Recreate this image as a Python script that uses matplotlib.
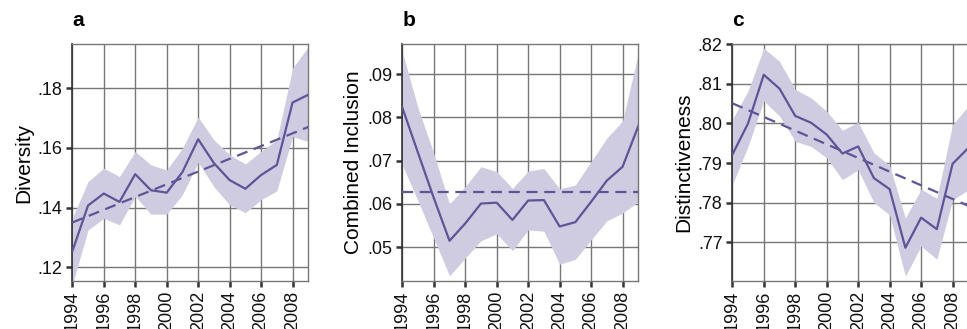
import matplotlib
matplotlib.use("Agg")
import matplotlib.pyplot as plt
from matplotlib.ticker import FuncFormatter

plt.rcParams['font.family'] = ['Liberation Sans', 'DejaVu Sans']

years = list(range(1994, 2010))

div_mean = [.1253, .1407, .1447, .1419, .1512, .1458, .1450, .1519, .1629, .1549,
            .1492, .1463, .1509, .1543, .1752, .1778]
div_upper = [.1365, .1487, .1532, .1504, .1588, .1543, .1526, .1599, .1703, .1627,
             .1577, .1546, .1588, .1627, .1867, .1939]
div_lower = [.1140, .1325, .1364, .1342, .1437, .1378, .1378, .1443, .1552, .1470,
             .1409, .1383, .1426, .1456, .1638, .1621]
div_trend = [.1350, .1670]

inc_mean = [.0823, .0718, .0614, .0515, .0555, .0601, .0603, .0563, .0608, .0609,
            .0548, .0558, .0605, .0654, .0686, .0780]
inc_upper = [.0952, .0822, .0717, .0600, .0640, .0686, .0675, .0636, .0676, .0682,
             .0635, .0644, .0698, .0752, .0792, .0948]
inc_lower = [.0690, .0607, .0521, .0434, .0475, .0515, .0531, .0492, .0540, .0537,
             .0461, .0472, .0517, .0561, .0579, .0605]
inc_trend = [.0627, .0627]

dis_mean = [.7921, .8000, .8123, .8088, .8019, .8002, .7972, .7924, .7942, .7862,
            .7834, .7686, .7762, .7733, .7898, .7938]
dis_upper = [.8010, .8082, .8190, .8157, .8086, .8065, .8031, .7983, .8003, .7926,
             .7894, .7761, .7834, .7811, .7997, .8044]
dis_lower = [.7845, .7942, .8057, .8019, .7955, .7942, .7913, .7858, .7883, .7800,
             .7769, .7614, .7690, .7657, .7807, .7832]
dis_trend = [.8051, .7792]

panels = [
    dict(letter='a', label='Diversity', mean=div_mean, upper=div_upper, lower=div_lower,
         trend=div_trend, ylim=(.1154, .1947), yticks=[.12, .14, .16, .18], left=72.3),
    dict(letter='b', label='Combined Inclusion', mean=inc_mean, upper=inc_upper, lower=inc_lower,
         trend=inc_trend, ylim=(.0422, .0969), yticks=[.05, .06, .07, .08, .09], left=402.3),
    dict(letter='c', label='Distinctiveness', mean=dis_mean, upper=dis_upper, lower=dis_lower,
         trend=dis_trend, ylim=(.7602, .8200), yticks=[.77, .78, .79, .80, .81, .82], left=732.3),
]

W, H = 967, 329
fig = plt.figure(figsize=(W / 100, H / 100), dpi=100)

line_c = '#5d5595'
fill_c = '#cfcce2'
grid_c = '#777777'
dark_c = '#333333'

def fmt(v, pos):
    s = '%.2f' % v
    return s[1:] if s.startswith('0') else s

for p in panels:
    ax = fig.add_axes([p['left'] / W, 1 - 281 / H, 236 / W, (281 - 44.3) / H])
    ax.fill_between(years, p['lower'], p['upper'], color=fill_c, lw=0, zorder=1)
    ax.plot(years, p['mean'], color=line_c, lw=1.6, zorder=3)
    ax.plot([years[0], years[-1]], p['trend'], color=line_c, lw=1.6, ls=(0, (5, 3)), zorder=3)
    ax.set_xlim(1994, 2009)
    ax.set_ylim(*p['ylim'])
    ax.set_xticks(list(range(1994, 2009, 2)))
    ax.set_xticklabels([str(y) for y in range(1994, 2009, 2)], rotation=90)
    ax.set_yticks(p['yticks'])
    ax.yaxis.set_major_formatter(FuncFormatter(fmt))
    ax.grid(True, color=grid_c, lw=1.0, zorder=0)
    ax.set_axisbelow(True)
    for s in ['top', 'right', 'bottom']:
        ax.spines[s].set_color(grid_c)
        ax.spines[s].set_linewidth(1.0)
    ax.spines['left'].set_color(dark_c)
    ax.spines['left'].set_linewidth(1.2)
    ax.tick_params(axis='both', length=4, width=1.8, color=dark_c, labelsize=13,
                   labelcolor='#111111', pad=3)
    ax.set_ylabel(p['label'], fontsize=15, labelpad=3)
    ax.text(0.0, 1.1, p['letter'], transform=ax.transAxes, fontsize=15,
            fontweight='bold', ha='left', va='center')

fig.savefig('out.png', dpi=100)
